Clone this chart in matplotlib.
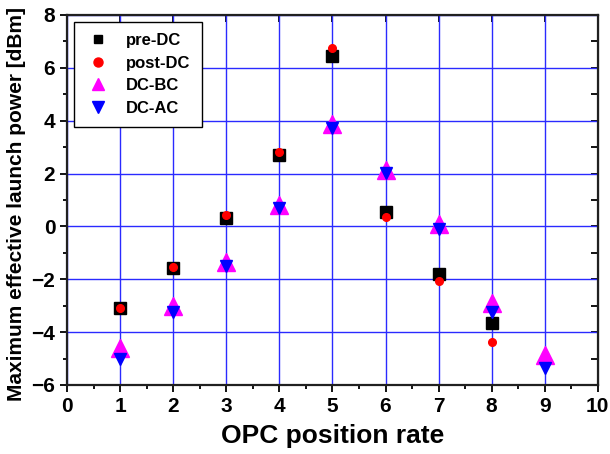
import matplotlib
matplotlib.use("Agg")
import matplotlib.pyplot as plt
from matplotlib.ticker import MultipleLocator
from matplotlib.lines import Line2D

plt.rcParams['font.family'] = ['Liberation Sans', 'DejaVu Sans']
plt.rcParams['font.weight'] = 'bold'

x_pre = [1, 2, 3, 4, 5, 6, 7, 8]
pre_dc = [-3.1, -1.58, 0.32, 2.72, 6.45, 0.55, -1.8, -3.65]
x_post = [1, 2, 3, 4, 5, 6, 7, 8]
post_dc = [-3.1, -1.53, 0.42, 2.83, 6.74, 0.34, -2.07, -4.38]
x_bc = [1, 2, 3, 4, 5, 6, 7, 8, 9]
dc_bc = [-4.6, -3.0, -1.33, 0.8, 3.87, 2.15, 0.11, -2.9, -4.87]
x_ac = [1, 2, 3, 4, 5, 6, 7, 8, 9]
dc_ac = [-5.0, -3.25, -1.5, 0.7, 3.72, 2.02, -0.1, -3.22, -5.36]

series_labels = ['pre-DC', 'post-DC', 'DC-BC', 'DC-AC']
xlabel = "OPC position rate"
ylabel = "Maximum effective launch power [dBm]"

fig = plt.figure(figsize=(6.10, 4.54), dpi=100)
ax = fig.add_axes([0.110, 0.152, 0.870, 0.815])

ax.set_xlim(0, 10)
ax.set_ylim(-6, 8)
ax.xaxis.set_major_locator(MultipleLocator(1))
ax.xaxis.set_minor_locator(MultipleLocator(0.5))
ax.yaxis.set_major_locator(MultipleLocator(2))
ax.yaxis.set_minor_locator(MultipleLocator(1))

ax.grid(True, which='major', color='#2a2aff', linewidth=1.0, zorder=0)
ax.set_axisbelow(True)

ax.plot(x_pre, pre_dc, linestyle='none', marker='s', markersize=9.2,
        color='black', zorder=3)
ax.plot(x_post, post_dc, linestyle='none', marker='o', markersize=5.5,
        color='red', zorder=4)
ax.plot(x_bc, dc_bc, linestyle='none', marker='^', markersize=13.5,
        color='magenta', zorder=5)
ax.plot(x_ac, dc_ac, linestyle='none', marker='v', markersize=8,
        color='blue', zorder=6)

for s in ax.spines.values():
    s.set_linewidth(1.6)
    s.set_color('#202020')

ax.tick_params(axis='both', which='both', direction='out', labelsize=15,
               width=1.3)
ax.tick_params(which='major', length=5)
ax.tick_params(which='minor', length=3)
secx = ax.secondary_xaxis('top')
secx.xaxis.set_major_locator(MultipleLocator(1))
secx.xaxis.set_minor_locator(MultipleLocator(0.5))
secx.tick_params(direction='in', length=5, width=1.3, labeltop=False)
secx.tick_params(which='minor', length=0)
secy = ax.secondary_yaxis('right')
secy.yaxis.set_major_locator(MultipleLocator(2))
secy.yaxis.set_minor_locator(MultipleLocator(1))
secy.tick_params(which='both', direction='in', length=5, width=1.3, labelright=False)
for lab in ax.get_xticklabels() + ax.get_yticklabels():
    lab.set_fontweight('bold')

ax.set_xlabel(xlabel, fontsize=19, fontweight='bold', labelpad=6)
ax.set_ylabel(ylabel, fontsize=15, fontweight='bold')
ax.yaxis.set_label_coords(-0.077, 0.49)

handles = [
    Line2D([], [], linestyle='none', marker='s', markersize=5.5, color='black'),
    Line2D([], [], linestyle='none', marker='o', markersize=6.5, color='red'),
    Line2D([], [], linestyle='none', marker='^', markersize=8.5, color='magenta'),
    Line2D([], [], linestyle='none', marker='v', markersize=8.5, color='blue'),
]
leg = ax.legend(handles, series_labels, loc='upper left', frameon=True,
                fancybox=False, edgecolor='black', framealpha=1.0, fontsize=12,
                borderaxespad=0.4, handletextpad=0.94, handlelength=1.48,
                labelspacing=0.45, borderpad=0.7)
leg.get_frame().set_linewidth(1.0)
for t in leg.get_texts():
    t.set_fontweight('bold')

fig.savefig('out.png', dpi=100)
